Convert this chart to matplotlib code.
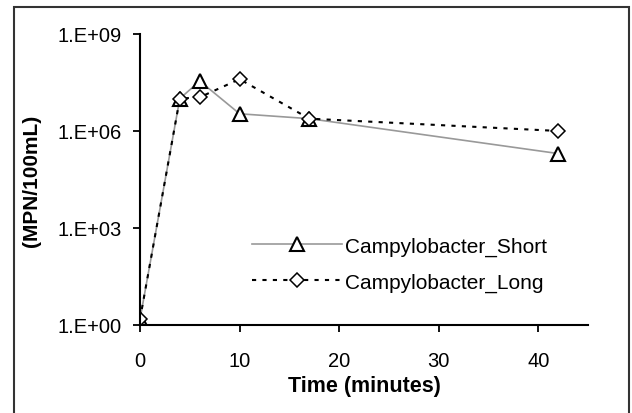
import numpy as np
import matplotlib.pyplot as plt
from matplotlib.patches import Rectangle

plt.rcParams['font.family'] = ['Liberation Sans', 'DejaVu Sans']

# Data
time = [0, 4, 6, 10, 17, 42]
short = [1.5, 1.0e7, 3.5e7, 3.4e6, 2.4e6, 2.0e5]
long_ = [1.5, 1.0e7, 1.1e7, 4.0e7, 2.4e6, 1.0e6]
yticks = [1, 1e3, 1e6, 1e9]
ytick_labels = ['1.E+00', '1.E+03', '1.E+06', '1.E+09']

fig = plt.figure(figsize=(6.32, 4.14), dpi=100)
ax = fig.add_axes([0.2215, 0.2126, 0.709, 0.703])

# outer frame around the chart
fig.patches.append(Rectangle((14 / 632, -0.05), 615 / 632, 1 - 8 / 414 + 0.05,
                             transform=fig.transFigure, fill=False,
                             edgecolor='#333333', linewidth=1.5))

ax.plot(time, short, '-^', color='#999999', linewidth=1.2, markersize=10,
        markerfacecolor='white', markeredgecolor='black', markeredgewidth=1.5,
        label='Campylobacter_Short')
ax.plot(time, long_, ':D', color='black', linewidth=1.5, markersize=7.5,
        markerfacecolor='white', markeredgecolor='black', markeredgewidth=1.1,
        label='Campylobacter_Long', dashes=(2, 3))

ax.set_yscale('log')
ax.set_ylim(1, 1e9)
ax.set_xlim(0, 45)
ax.set_yticks(yticks)
ax.set_yticklabels(ytick_labels)
ax.minorticks_off()
ax.set_xticks([0, 10, 20, 30, 40])

for s in ['top', 'right']:
    ax.spines[s].set_visible(False)
for s in ['left', 'bottom']:
    ax.spines[s].set_linewidth(1.5)
ax.tick_params(axis='both', labelsize=14.5, width=1.3, length=5, direction='out')
ax.tick_params(axis='y', pad=8)
ax.tick_params(axis='x', pad=14)

ax.set_xlabel('Time (minutes)', fontsize=15.5, fontweight='bold', labelpad=3)
ax.set_ylabel('(MPN/100mL)', fontsize=15, fontweight='bold', labelpad=12)

ax.legend(loc='lower right', bbox_to_anchor=(0.95, 0.05), frameon=False,
          fontsize=15, handlelength=4.3, labelspacing=0.8, handletextpad=0.15)

fig.savefig('out.png', dpi=100)
